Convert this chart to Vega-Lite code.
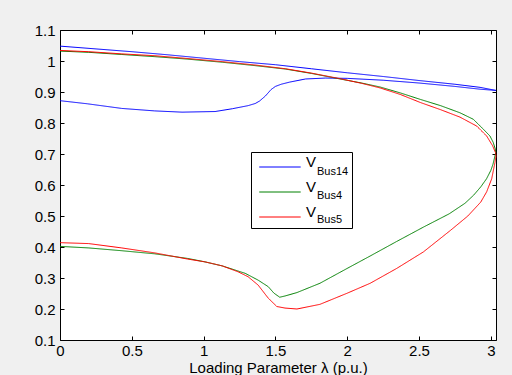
{
  "$schema": "https://vega.github.io/schema/vega-lite/v6.json",
  "width": 436,
  "height": 310,
  "autosize": {"type": "none"},
  "padding": {"left": 60, "top": 30, "right": 16, "bottom": 35},
  "background": "#f0f0f0",
  "config": {
    "view": {"fill": "white", "stroke": "black", "strokeWidth": 1},
    "font": "Liberation Sans",
    "axis": {
      "grid": false,
      "domain": false,
      "tickSize": -4,
      "tickColor": "black",
      "tickWidth": 1,
      "labelPadding": 9,
      "labelFont": "Liberation Sans",
      "labelFontSize": 15,
      "labelColor": "black",
      "labelFlush": false,
      "labelOverlap": false,
      "titleFont": "Liberation Sans",
      "titleFontSize": 15,
      "titleFontWeight": "normal",
      "titleColor": "black"
    }
  },
  "data": {
    "values": [
      {"bus": "Bus14", "i": 0, "lam": 0, "v": 1.048},
      {"bus": "Bus14", "i": 1, "lam": 0.25, "v": 1.039},
      {"bus": "Bus14", "i": 2, "lam": 0.5, "v": 1.030},
      {"bus": "Bus14", "i": 3, "lam": 0.75, "v": 1.020},
      {"bus": "Bus14", "i": 4, "lam": 1.0, "v": 1.009},
      {"bus": "Bus14", "i": 5, "lam": 1.25, "v": 0.998},
      {"bus": "Bus14", "i": 6, "lam": 1.5, "v": 0.988},
      {"bus": "Bus14", "i": 7, "lam": 1.75, "v": 0.975},
      {"bus": "Bus14", "i": 8, "lam": 2.0, "v": 0.962},
      {"bus": "Bus14", "i": 9, "lam": 2.25, "v": 0.950},
      {"bus": "Bus14", "i": 10, "lam": 2.5, "v": 0.937},
      {"bus": "Bus14", "i": 11, "lam": 2.75, "v": 0.925},
      {"bus": "Bus14", "i": 12, "lam": 2.925, "v": 0.915},
      {"bus": "Bus14", "i": 13, "lam": 3.036, "v": 0.905},
      {"bus": "Bus14", "i": 14, "lam": 2.925, "v": 0.909},
      {"bus": "Bus14", "i": 15, "lam": 2.75, "v": 0.918},
      {"bus": "Bus14", "i": 16, "lam": 2.5, "v": 0.929},
      {"bus": "Bus14", "i": 17, "lam": 2.25, "v": 0.938},
      {"bus": "Bus14", "i": 18, "lam": 2.0, "v": 0.944},
      {"bus": "Bus14", "i": 19, "lam": 1.85, "v": 0.945},
      {"bus": "Bus14", "i": 20, "lam": 1.71, "v": 0.942},
      {"bus": "Bus14", "i": 21, "lam": 1.6, "v": 0.932},
      {"bus": "Bus14", "i": 22, "lam": 1.54, "v": 0.925},
      {"bus": "Bus14", "i": 23, "lam": 1.5, "v": 0.918},
      {"bus": "Bus14", "i": 24, "lam": 1.47, "v": 0.908},
      {"bus": "Bus14", "i": 25, "lam": 1.43, "v": 0.887},
      {"bus": "Bus14", "i": 26, "lam": 1.39, "v": 0.871},
      {"bus": "Bus14", "i": 27, "lam": 1.36, "v": 0.863},
      {"bus": "Bus14", "i": 28, "lam": 1.31, "v": 0.856},
      {"bus": "Bus14", "i": 29, "lam": 1.2, "v": 0.846},
      {"bus": "Bus14", "i": 30, "lam": 1.08, "v": 0.837},
      {"bus": "Bus14", "i": 31, "lam": 0.85, "v": 0.835},
      {"bus": "Bus14", "i": 32, "lam": 0.66, "v": 0.839},
      {"bus": "Bus14", "i": 33, "lam": 0.43, "v": 0.847},
      {"bus": "Bus14", "i": 34, "lam": 0.19, "v": 0.862},
      {"bus": "Bus14", "i": 35, "lam": 0, "v": 0.872},

      {"bus": "Bus4", "i": 0, "lam": 0, "v": 1.032},
      {"bus": "Bus4", "i": 1, "lam": 0.2, "v": 1.028},
      {"bus": "Bus4", "i": 2, "lam": 0.43, "v": 1.021},
      {"bus": "Bus4", "i": 3, "lam": 0.66, "v": 1.014},
      {"bus": "Bus4", "i": 4, "lam": 0.89, "v": 1.006},
      {"bus": "Bus4", "i": 5, "lam": 1.13, "v": 0.996},
      {"bus": "Bus4", "i": 6, "lam": 1.36, "v": 0.985},
      {"bus": "Bus4", "i": 7, "lam": 1.57, "v": 0.974},
      {"bus": "Bus4", "i": 8, "lam": 1.75, "v": 0.960},
      {"bus": "Bus4", "i": 9, "lam": 1.95, "v": 0.942},
      {"bus": "Bus4", "i": 10, "lam": 2.1, "v": 0.929},
      {"bus": "Bus4", "i": 11, "lam": 2.23, "v": 0.916},
      {"bus": "Bus4", "i": 12, "lam": 2.37, "v": 0.897},
      {"bus": "Bus4", "i": 13, "lam": 2.51, "v": 0.876},
      {"bus": "Bus4", "i": 14, "lam": 2.65, "v": 0.856},
      {"bus": "Bus4", "i": 15, "lam": 2.785, "v": 0.833},
      {"bus": "Bus4", "i": 16, "lam": 2.878, "v": 0.812},
      {"bus": "Bus4", "i": 17, "lam": 2.948, "v": 0.780},
      {"bus": "Bus4", "i": 18, "lam": 2.994, "v": 0.758},
      {"bus": "Bus4", "i": 19, "lam": 3.017, "v": 0.737},
      {"bus": "Bus4", "i": 20, "lam": 3.031, "v": 0.716},
      {"bus": "Bus4", "i": 21, "lam": 3.034, "v": 0.705},
      {"bus": "Bus4", "i": 22, "lam": 3.029, "v": 0.694},
      {"bus": "Bus4", "i": 23, "lam": 3.015, "v": 0.667},
      {"bus": "Bus4", "i": 24, "lam": 3.0, "v": 0.647},
      {"bus": "Bus4", "i": 25, "lam": 2.97, "v": 0.620},
      {"bus": "Bus4", "i": 26, "lam": 2.93, "v": 0.594},
      {"bus": "Bus4", "i": 27, "lam": 2.88, "v": 0.567},
      {"bus": "Bus4", "i": 28, "lam": 2.82, "v": 0.541},
      {"bus": "Bus4", "i": 29, "lam": 2.71, "v": 0.507},
      {"bus": "Bus4", "i": 30, "lam": 2.53, "v": 0.464},
      {"bus": "Bus4", "i": 31, "lam": 2.345, "v": 0.418},
      {"bus": "Bus4", "i": 32, "lam": 2.16, "v": 0.371},
      {"bus": "Bus4", "i": 33, "lam": 2.0, "v": 0.331},
      {"bus": "Bus4", "i": 34, "lam": 1.81, "v": 0.283},
      {"bus": "Bus4", "i": 35, "lam": 1.65, "v": 0.253},
      {"bus": "Bus4", "i": 36, "lam": 1.567, "v": 0.242},
      {"bus": "Bus4", "i": 37, "lam": 1.53, "v": 0.238},
      {"bus": "Bus4", "i": 38, "lam": 1.49, "v": 0.251},
      {"bus": "Bus4", "i": 39, "lam": 1.45, "v": 0.272},
      {"bus": "Bus4", "i": 40, "lam": 1.38, "v": 0.293},
      {"bus": "Bus4", "i": 41, "lam": 1.29, "v": 0.315},
      {"bus": "Bus4", "i": 42, "lam": 1.13, "v": 0.339},
      {"bus": "Bus4", "i": 43, "lam": 1.01, "v": 0.352},
      {"bus": "Bus4", "i": 44, "lam": 0.89, "v": 0.363},
      {"bus": "Bus4", "i": 45, "lam": 0.66, "v": 0.378},
      {"bus": "Bus4", "i": 46, "lam": 0.43, "v": 0.388},
      {"bus": "Bus4", "i": 47, "lam": 0.2, "v": 0.397},
      {"bus": "Bus4", "i": 48, "lam": 0, "v": 0.402},

      {"bus": "Bus5", "i": 0, "lam": 0, "v": 1.034},
      {"bus": "Bus5", "i": 1, "lam": 0.2, "v": 1.030},
      {"bus": "Bus5", "i": 2, "lam": 0.43, "v": 1.023},
      {"bus": "Bus5", "i": 3, "lam": 0.66, "v": 1.017},
      {"bus": "Bus5", "i": 4, "lam": 0.89, "v": 1.008},
      {"bus": "Bus5", "i": 5, "lam": 1.13, "v": 0.998},
      {"bus": "Bus5", "i": 6, "lam": 1.36, "v": 0.987},
      {"bus": "Bus5", "i": 7, "lam": 1.57, "v": 0.975},
      {"bus": "Bus5", "i": 8, "lam": 1.75, "v": 0.961},
      {"bus": "Bus5", "i": 9, "lam": 1.95, "v": 0.943},
      {"bus": "Bus5", "i": 10, "lam": 2.1, "v": 0.928},
      {"bus": "Bus5", "i": 11, "lam": 2.23, "v": 0.913},
      {"bus": "Bus5", "i": 12, "lam": 2.37, "v": 0.892},
      {"bus": "Bus5", "i": 13, "lam": 2.51, "v": 0.866},
      {"bus": "Bus5", "i": 14, "lam": 2.65, "v": 0.843},
      {"bus": "Bus5", "i": 15, "lam": 2.785, "v": 0.819},
      {"bus": "Bus5", "i": 16, "lam": 2.902, "v": 0.790},
      {"bus": "Bus5", "i": 17, "lam": 2.971, "v": 0.758},
      {"bus": "Bus5", "i": 18, "lam": 3.013, "v": 0.726},
      {"bus": "Bus5", "i": 19, "lam": 3.032, "v": 0.705},
      {"bus": "Bus5", "i": 20, "lam": 3.036, "v": 0.694},
      {"bus": "Bus5", "i": 21, "lam": 3.029, "v": 0.673},
      {"bus": "Bus5", "i": 22, "lam": 3.006, "v": 0.620},
      {"bus": "Bus5", "i": 23, "lam": 2.971, "v": 0.578},
      {"bus": "Bus5", "i": 24, "lam": 2.93, "v": 0.545},
      {"bus": "Bus5", "i": 25, "lam": 2.84, "v": 0.500},
      {"bus": "Bus5", "i": 26, "lam": 2.72, "v": 0.454},
      {"bus": "Bus5", "i": 27, "lam": 2.53, "v": 0.384},
      {"bus": "Bus5", "i": 28, "lam": 2.345, "v": 0.331},
      {"bus": "Bus5", "i": 29, "lam": 2.16, "v": 0.283},
      {"bus": "Bus5", "i": 30, "lam": 2.0, "v": 0.251},
      {"bus": "Bus5", "i": 31, "lam": 1.81, "v": 0.215},
      {"bus": "Bus5", "i": 32, "lam": 1.65, "v": 0.200},
      {"bus": "Bus5", "i": 33, "lam": 1.567, "v": 0.203},
      {"bus": "Bus5", "i": 34, "lam": 1.51, "v": 0.208},
      {"bus": "Bus5", "i": 35, "lam": 1.45, "v": 0.235},
      {"bus": "Bus5", "i": 36, "lam": 1.38, "v": 0.277},
      {"bus": "Bus5", "i": 37, "lam": 1.31, "v": 0.304},
      {"bus": "Bus5", "i": 38, "lam": 1.24, "v": 0.320},
      {"bus": "Bus5", "i": 39, "lam": 1.13, "v": 0.339},
      {"bus": "Bus5", "i": 40, "lam": 1.01, "v": 0.352},
      {"bus": "Bus5", "i": 41, "lam": 0.89, "v": 0.361},
      {"bus": "Bus5", "i": 42, "lam": 0.66, "v": 0.381},
      {"bus": "Bus5", "i": 43, "lam": 0.43, "v": 0.397},
      {"bus": "Bus5", "i": 44, "lam": 0.2, "v": 0.411},
      {"bus": "Bus5", "i": 45, "lam": 0, "v": 0.414}
    ]
  },
  "layer": [
    {
      "mark": {"type": "line", "strokeWidth": 1},
      "encoding": {
        "x": {
          "field": "lam",
          "type": "quantitative",
          "scale": {"domain": [0, 3.036], "nice": false, "zero": false},
          "axis": {
            "orient": "bottom",
            "values": [0, 0.5, 1, 1.5, 2, 2.5, 3],
            "format": "~g",
            "labelPadding": 7,
            "title": "Loading Parameter λ (p.u.)",
            "titlePadding": 2
          }
        },
        "y": {
          "field": "v",
          "type": "quantitative",
          "scale": {"domain": [0.1, 1.1], "nice": false, "zero": false},
          "axis": {
            "orient": "left",
            "values": [0.1, 0.2, 0.3, 0.4, 0.5, 0.6, 0.7, 0.8, 0.9, 1, 1.1],
            "format": "~g",
            "title": null
          }
        },
        "color": {
          "field": "bus",
          "type": "nominal",
          "scale": {"range": ["#0000ff", "#008000", "#ff0000"]},
          "legend": {
            "title": null,
            "orient": "none",
            "legendX": 191,
            "legendY": 123,
            "padding": 3,
            "rowPadding": 2,
            "clipHeight": 22,
            "symbolType": "M-0.55,0H3.4",
            "symbolSize": 441,
            "symbolStrokeWidth": 1,
            "labelExpr": "'V'",
            "labelFont": "Liberation Sans",
            "labelFontSize": 15,
            "labelColor": "black",
            "labelBaseline": "alphabetic",
            "labelOffset": 30
          }
        },
        "strokeDash": {
          "field": "bus",
          "type": "nominal",
          "scale": {"domain": ["Bus14", "Bus4", "Bus5"], "range": [[1, 0], [1, 0], [1, 0]]},
          "legend": {
            "title": null,
            "orient": "none",
            "legendX": 191,
            "legendY": 122,
            "padding": 3,
            "rowPadding": 2,
            "clipHeight": 22,
            "strokeColor": "black",
            "symbolType": "M-0.55,0H3.4",
            "symbolSize": 441,
            "symbolStrokeWidth": 1,
            "symbolOpacity": 0,
            "labelExpr": "datum.label + '  '",
            "labelFont": "Liberation Sans",
            "labelFontSize": 11,
            "labelColor": "black",
            "labelBaseline": "top",
            "labelOffset": 41
          }
        },
        "order": {"field": "i", "type": "quantitative"}
      }
    },
    {
      "mark": {"type": "point", "opacity": 0},
      "encoding": {
        "x": {
          "field": "lam",
          "type": "quantitative",
          "axis": {"orient": "top", "values": [0, 0.5, 1, 1.5, 2, 2.5, 3], "labels": false, "title": null}
        },
        "y": {
          "field": "v",
          "type": "quantitative",
          "axis": {"orient": "right", "values": [0.1, 0.2, 0.3, 0.4, 0.5, 0.6, 0.7, 0.8, 0.9, 1, 1.1], "labels": false, "title": null}
        }
      }
    }
  ],
  "resolve": {"axis": {"x": "independent", "y": "independent"}}
}
